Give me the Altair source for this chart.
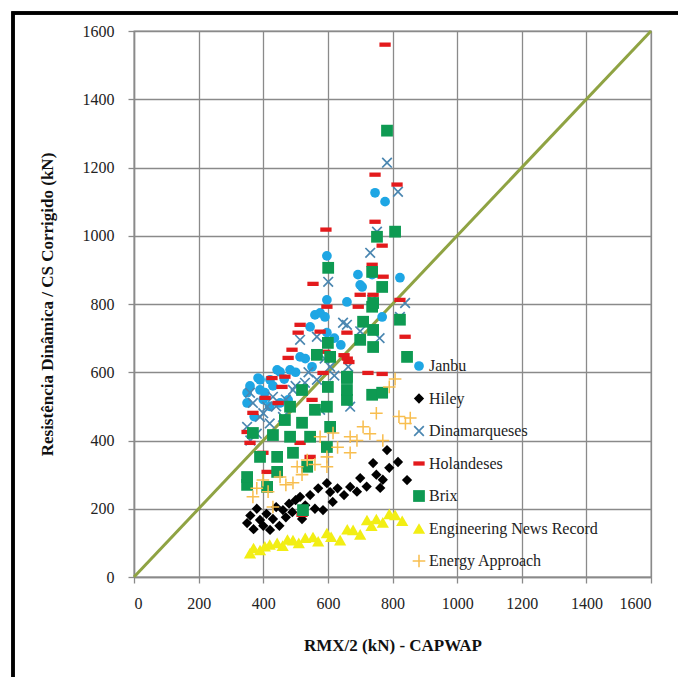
import altair as alt
import pandas as pd

# ---------------- data ----------------
series_names = ["Janbu", "Hiley", "Dinamarqueses", "Holandeses", "Brix",
                "Engineering News Record", "Energy Approach"]

janbu_x = [350, 350, 359, 372, 384, 390, 390, 400, 405, 420, 421, 430, 443, 452, 452,
           465, 477, 483, 500, 514, 530, 545, 551, 560, 576, 591, 597, 597, 597, 620,
           640, 659, 693, 700, 706, 737, 746, 768, 777, 823]
janbu_y = [540, 510, 560, 470, 583, 578, 548, 520, 540, 500, 578, 560, 607, 601, 510,
           580, 519, 607, 600, 645, 640, 733, 616, 768, 774, 762, 716, 812, 941, 700,
           680, 806, 886, 856, 850, 886, 1126, 762, 1100, 877]

hiley_x = [350, 360, 370, 380, 390, 400, 410, 421, 430, 440, 450, 461, 470, 480, 490,
           500, 514, 520, 530, 545, 560, 570, 585, 597, 607, 615, 630, 650, 669, 690,
           700, 720, 740, 750, 762, 770, 783, 790, 817, 845]
hiley_y = [158, 180, 140, 200, 167, 150, 185, 138, 170, 205, 150, 196, 175, 215, 190,
           225, 235, 170, 210, 240, 200, 260, 196, 275, 249, 220, 260, 240, 264, 250,
           290, 265, 334, 300, 261, 285, 372, 320, 337, 284]

dina_x = [350, 359, 360, 368, 380, 390, 400, 412, 420, 430, 440, 461, 470, 492, 500,
          514, 529, 540, 566, 566, 576, 590, 600, 601, 607, 620, 647, 659, 663, 669,
          700, 731, 737, 752, 760, 783, 817, 823, 839]
dina_y = [440, 540, 400, 510, 420, 469, 480, 499, 450, 528, 500, 469, 520, 548, 560,
          695, 569, 600, 578, 704, 490, 640, 560, 865, 616, 590, 745, 739, 616, 499,
          720, 950, 812, 1012, 700, 1214, 1129, 762, 803]

hol_x = [350, 359, 368, 399, 406, 412, 427, 446, 458, 467, 477, 489, 508, 514, 514,
         520, 545, 551, 554, 576, 585, 591, 594, 597, 650, 660, 665, 659, 694, 700,
         724, 737, 740, 746, 746, 768, 768, 771, 777, 814, 823, 839]
hol_y = [425, 393, 481, 364, 525, 308, 583, 510, 557, 587, 642, 666, 716, 739, 393,
         182, 352, 519, 859, 719, 598, 660, 1018, 792, 650, 640, 630, 716, 792, 827,
         598, 915, 827, 1041, 1179, 595, 971, 880, 1560, 1150, 812, 704]

brix_x = [350, 350, 368, 390, 412, 430, 443, 443, 467, 483, 483, 492, 520, 520, 523,
          536, 545, 560, 566, 597, 597, 600, 600, 601, 607, 607, 659, 659, 659, 659,
          700, 709, 737, 737, 737, 740, 740, 740, 752, 768, 768, 783, 808, 823, 845]
brix_y = [270, 293, 422, 352, 264, 416, 308, 352, 460, 411, 499, 364, 452, 548, 196,
          323, 411, 490, 651, 381, 499, 557, 686, 906, 440, 645, 583, 519, 548, 587,
          695, 748, 534, 792, 894, 674, 724, 803, 997, 540, 850, 1308, 1012, 754, 645]

enr_x = [359, 370, 390, 405, 420, 443, 460, 475, 492, 510, 530, 554, 570, 597, 610,
         638, 660, 678, 700, 721, 735, 750, 770, 790, 808, 830]
enr_y = [70, 85, 79, 90, 95, 100, 92, 110, 108, 100, 115, 117, 105, 129, 118,
         108, 140, 138, 125, 167, 150, 170, 160, 185, 182, 165]

ea_x = [368, 380, 399, 415, 430, 452, 470, 492, 505, 520, 536, 560, 576, 597, 597,
        616, 630, 669, 669, 690, 709, 730, 750, 770, 790, 808, 820, 840, 855]
ea_y = [235, 260, 284, 250, 205, 293, 270, 276, 323, 300, 343, 330, 411, 352, 323,
        422, 380, 364, 411, 400, 440, 420, 480, 400, 557, 580, 470, 450, 466]

diag_x = [0, 1600]
diag_y = [0, 1600]

axis_ticks = [0, 200, 400, 600, 800, 1000, 1200, 1400, 1600]

# ---------------- build table ----------------
all_series = [
    ("Janbu", janbu_x, janbu_y),
    ("Hiley", hiley_x, hiley_y),
    ("Dinamarqueses", dina_x, dina_y),
    ("Holandeses", hol_x, hol_y),
    ("Brix", brix_x, brix_y),
    ("Engineering News Record", enr_x, enr_y),
    ("Energy Approach", ea_x, ea_y),
]
rows = []
order = 0
for name, xs, ys in all_series:
    for xv, yv in zip(xs, ys):
        rows.append({"serie": name, "x": xv, "y": yv, "ord": order})
        order += 1
df = pd.DataFrame(rows)
diag = pd.DataFrame({"x": diag_x, "y": diag_y})

X_PATH = ("M-1,-0.78L-0.78,-1L0,-0.22L0.78,-1L1,-0.78L0.22,0L1,0.78L0.78,1L0,0.22"
          "L-0.78,1L-1,0.78L-0.22,0Z")
DASH_PATH = "M-1,-0.38L1,-0.38L1,0.38L-1,0.38Z"
PLUS_PATH = ("M-1,-0.12L-0.12,-0.12L-0.12,-1L0.12,-1L0.12,-0.12L1,-0.12L1,0.12"
             "L0.12,0.12L0.12,1L-0.12,1L-0.12,0.12L-1,0.12Z")

colors = ["#1EA6E4", "#000000", "#4A86B0", "#E31A1C", "#0E9A52", "#F2EE14", "#F8BE4F"]
shapes = ["circle", "diamond", X_PATH, DASH_PATH, "square", "triangle-up", PLUS_PATH]
sizes = [95, 160, 150, 190, 100, 35, 180]

FONT = "'Liberation Serif', 'Times New Roman', Times, serif"
W, H = 517, 546

xscale = alt.Scale(domain=[0, 1600], nice=False)
yscale = alt.Scale(domain=[0, 1600], nice=False)

line = alt.Chart(diag).mark_line(color="#8FA343", strokeWidth=3).encode(
    x=alt.X("x:Q", scale=xscale,
            axis=alt.Axis(values=axis_ticks, format="d",
                          title="RMX/2 (kN) - CAPWAP")),
    y=alt.Y("y:Q", scale=yscale,
            axis=alt.Axis(values=axis_ticks, format="d",
                          title="Resistência Dinâmica / CS Corrigido (kN)")),
)

points = alt.Chart(df).mark_point(filled=True, opacity=1, strokeWidth=0).encode(
    x=alt.X("x:Q", scale=xscale),
    y=alt.Y("y:Q", scale=yscale),
    color=alt.Color("serie:N", scale=alt.Scale(domain=series_names, range=colors),
                    legend=alt.Legend(title=None, orient="none", legendX=277,
                                      legendY=327, rowPadding=16.5,
                                      symbolSize=60, labelOffset=2,
                                      labelLimit=300)),
    shape=alt.Shape("serie:N", scale=alt.Scale(domain=series_names, range=shapes)),
    size=alt.Size("serie:N", scale=alt.Scale(domain=series_names, range=sizes),
                  legend=None),
    order=alt.Order("ord:Q"),
)

frame = alt.Chart(diag).mark_rect(filled=False, stroke="black", strokeWidth=3.5,
                                  clip=False).encode(
    x=alt.value(-121), x2=alt.value(700), y=alt.value(-18), y2=alt.value(700)
)

chart = alt.layer(line, points, frame).properties(
    width=W, height=H,
    autosize=alt.AutoSizeParams(type="none"),
    padding={"left": 134, "top": 31, "right": 27, "bottom": 100},
    background="white",
).configure(font=FONT).configure_view(
    stroke="#8a8a8a", strokeWidth=1.3
).configure_axis(
    labelFont=FONT, labelFontSize=16, labelColor="#222",
    titleFont=FONT, titleFontSize=17, titleFontWeight="bold", titleColor="#111",
    gridColor="#8a8a8a", gridWidth=1.3, gridOpacity=1,
    domainColor="#8a8a8a", domainWidth=1.5,
    tickColor="#8a8a8a", tickSize=6, tickWidth=1.3,
).configure_axisX(labelPadding=12, titlePadding=26).configure_axisY(
    labelPadding=14, titlePadding=26
).configure_legend(labelFont=FONT, labelFontSize=16, labelColor="#222")

chart.save("out.html", embed_options={"renderer": "svg", "actions": False})
